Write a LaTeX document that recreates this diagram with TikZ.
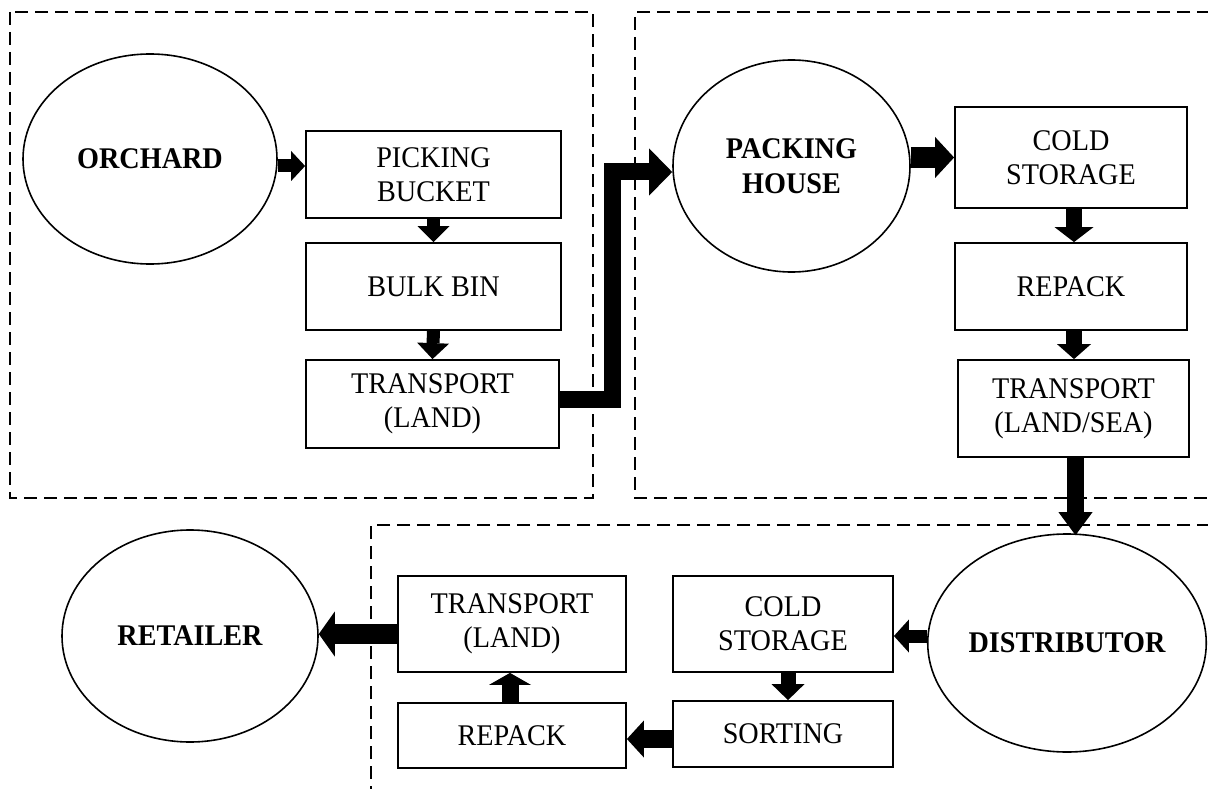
\documentclass[tikz,border=0pt]{standalone}
\usepackage{fontspec}
\setmainfont{Liberation Serif}[FakeStretch=0.94]
\usetikzlibrary{arrows.meta,shapes.geometric,calc}

\begin{document}
\begin{tikzpicture}[x=1pt,y=-1pt,
  txt/.style={font=\fontsize{30}{34}\selectfont, align=center, inner sep=0pt},
  stagebox/.style={txt, draw, line width=1.8pt, rectangle},
  site/.style={txt, draw, line width=1.6pt, ellipse, font=\fontsize{30}{35}\selectfont\bfseries},
  zone/.style={line width=1.6pt, dash pattern=on 13pt off 7pt},
  blk/.style n args={3}{line width=#1pt, -{Triangle[line width=0pt,length=#3pt,width=#2pt]}},
]
\clip (0,0) rectangle (1208,789);
\fill[white] (0,0) rectangle (1208,789);

% dashed zones: orchard, packing house, distribution
\draw[zone] (10,12) rectangle (593,498);
\draw[zone] (1230,12) -- (635,12) -- (635,498) -- (1230,498);
\draw[zone] (1230,525) -- (371,525) -- (371,800);

% orchard stage
\node[site, minimum width=254pt, minimum height=210pt] (orchard) at (150,159) {ORCHARD};
\node[stagebox, minimum width=255pt, minimum height=87pt] (picking) at (433.5,174.5) {PICKING\\BUCKET};
\node[stagebox, minimum width=255pt, minimum height=87pt] (bulk) at (433.5,286.5) {BULK BIN};
\node[stagebox, minimum width=253pt, minimum height=88pt] (tland) at (432.5,404) {TRANSPORT\\(LAND)};

% packing house stage
\node[site, minimum width=237pt, minimum height=212pt] (packing) at (791.5,166) {PACKING\\HOUSE};
\node[stagebox, minimum width=232pt, minimum height=101pt] (coldA) at (1071,157.5) {COLD\\STORAGE};
\node[stagebox, minimum width=232pt, minimum height=87pt] (repackA) at (1071,286.5) {REPACK};
\node[stagebox, minimum width=231pt, minimum height=97pt] (tsea) at (1073.5,408.5) {TRANSPORT\\(LAND/SEA)};

% distribution stage
\node[site, minimum width=268pt, minimum height=218pt] (dist) at (1067,643) {DISTRIBUTOR};
\node[stagebox, minimum width=220pt, minimum height=96pt] (coldB) at (783,624) {COLD\\STORAGE};
\node[stagebox, minimum width=220pt, minimum height=66pt] (sorting) at (783,734) {SORTING};
\node[stagebox, minimum width=228pt, minimum height=65pt] (repackB) at (512,735.5) {REPACK};
\node[stagebox, minimum width=228pt, minimum height=96pt] (tlandB) at (512,624) {TRANSPORT\\(LAND)};
\node[site, minimum width=256pt, minimum height=212pt] (retailer) at (190,636) {RETAILER};

% flow arrows
\draw[blk={13}{30}{14}] ($(orchard.east)+(0,7)$) -- ($(orchard.east -| picking.west)+(0,7)$);
\draw[blk={13}{32}{16}] (picking.south) -- (bulk.north);
\draw[blk={13}{32}{16}] (bulk.south) -- (tland.north);

\coordinate (riser) at (612,172);
\draw[blk={17}{47}{23}, line join=miter] ($(tland.east)+(0,-5)$) -| (riser) -- (riser -| packing.west);

\draw[blk={21}{41}{19}] (packing.east |- coldA.west) -- (coldA.west);
\draw[blk={16}{39}{15}] ($(coldA.south)+(3,0)$) -- ($(repackA.north)+(3,0)$);
\draw[blk={16}{34}{15}] ($(repackA.south)+(3,0)$) -- ($(tsea.north)+(0.5,0)$);
\draw[blk={17}{34}{23}] ($(tsea.south)+(2,0)$) -- ($(dist.north)+(8.5,2)$);

\draw[blk={13}{33}{15}] ($(dist.west)+(0,-7)$) -- ($(coldB.east)+(0,12)$);
\draw[blk={15}{33}{16}] ($(coldB.south)+(5,0)$) -- ($(sorting.north)+(5,0)$);
\draw[blk={18}{37}{17}] ($(sorting.west)+(0,5)$) -- ($(repackB.east)+(0,3.5)$);
\draw[blk={17}{42}{12}] ($(repackB.north)+(-2,0)$) -- ($(tlandB.south)+(-2,0)$);
\draw[blk={20}{45}{16}] ($(tlandB.west)+(0,10)$) -- ($(retailer.east)+(0,-2)$);
\end{tikzpicture}
\end{document}
